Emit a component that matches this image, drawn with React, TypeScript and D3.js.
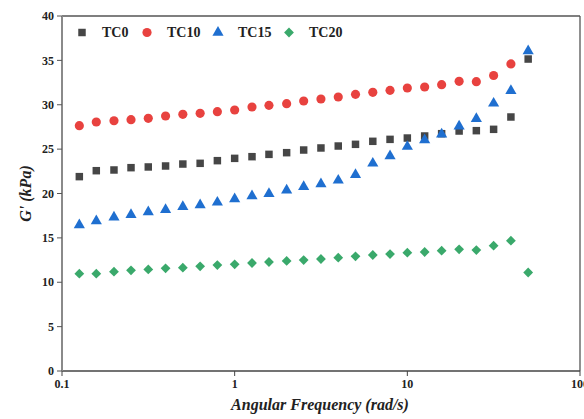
import React from "react";
import * as d3 from "d3";

// Angular frequency sweep points (rad/s)
const frequencies = [
  0.126, 0.158, 0.2, 0.251, 0.316, 0.398, 0.501, 0.631, 0.794, 1.0, 1.26, 1.58, 2.0, 2.51,
  3.16, 3.98, 5.01, 6.31, 7.94, 10.0, 12.6, 15.8, 19.95, 25.1, 31.6, 39.8, 50.1,
];

// Storage modulus G' (kPa) for each sample
const tc0 = [
  21.9, 22.57, 22.65, 22.91, 22.99, 23.1, 23.32, 23.4, 23.7, 23.96, 24.15, 24.41, 24.6, 24.9,
  25.13, 25.35, 25.54, 25.88, 26.1, 26.25, 26.48, 26.74, 27.04, 27.08, 27.23, 28.62, 35.15,
];
const tc10 = [
  27.64, 28.06, 28.2, 28.32, 28.47, 28.73, 28.92, 29.03, 29.22, 29.41, 29.75, 29.93, 30.12,
  30.42, 30.65, 30.87, 31.17, 31.4, 31.62, 31.89, 32.0, 32.26, 32.64, 32.6, 33.3, 34.6,
];
const tc15 = [
  16.45, 16.9, 17.32, 17.61, 17.92, 18.18, 18.51, 18.7, 19.0, 19.38, 19.72, 19.98, 20.36, 20.77,
  21.07, 21.48, 22.12, 23.4, 24.23, 25.28, 26.03, 26.67, 27.57, 28.43, 30.16, 31.58, 36.06,
];
const tc20 = [
  10.97, 10.97, 11.19, 11.34, 11.45, 11.57, 11.64, 11.79, 11.94, 12.02, 12.17, 12.28, 12.4, 12.5,
  12.62, 12.77, 12.92, 13.07, 13.18, 13.33, 13.41, 13.56, 13.71, 13.63, 14.12, 14.68, 11.1,
];

const seriesNames = ["TC0", "TC10", "TC15", "TC20"];
const xTicks = [0.1, 1, 10, 100];
const yTicks = [0, 5, 10, 15, 20, 25, 30, 35, 40];

const W = 584;
const H = 419;
const M = { left: 62, right: 4, top: 16, bottom: 48 };

const colors = ["#464646", "#e8423f", "#1f6fd0", "#3aa96b"];
const symbols = [d3.symbolSquare, d3.symbolCircle, d3.symbolTriangle, d3.symbolDiamond];
const sizes = [56, 66, 54, 48];

const serif = "'Liberation Serif', 'Times New Roman', serif";

export default function App() {
  const x = d3.scaleLog().domain([0.1, 100]).range([M.left, W - M.right]);
  const y = d3.scaleLinear().domain([0, 40]).range([H - M.bottom, M.top]);
  const allSeries = [tc0, tc10, tc15, tc20];

  // diamonds are drawn as rotated squares so their width matches the other markers
  const markerPath = (i: number) =>
    i === 3
      ? (d3.symbol().type(d3.symbolSquare).size(sizes[3])() as string)
      : (d3.symbol().type(symbols[i]).size(sizes[i])() as string);
  const markerTransform = (i: number, cx: number, cy: number) =>
    i === 3 ? `translate(${cx},${cy}) rotate(45)` : `translate(${cx},${cy})`;

  const x0 = x.range()[0];
  const x1 = x.range()[1];
  const yb = y.range()[0];
  const yt = y.range()[1];

  const legendX = [82, 147, 218, 289];
  const legendY = 32.5;

  return (
    <svg
      width={W}
      height={H}
      style={{ position: "absolute", left: 0, top: 0, background: "#fff" }}
      fontFamily={serif}
    >
      <rect x={0} y={0} width={W} height={H} fill="#fff" />

      {/* frame */}
      <line x1={x0} x2={x1} y1={yt} y2={yt} stroke="#555" strokeWidth={1.3} />
      <line x1={x1} x2={x1} y1={yt} y2={yb} stroke="#555" strokeWidth={1.3} />
      <line x1={x0} x2={x1} y1={yb} y2={yb} stroke="#444" strokeWidth={1.3} />
      <line x1={x0} x2={x0} y1={yt} y2={yb} stroke="#8a8a8a" strokeWidth={2} />

      {/* y axis ticks */}
      {yTicks.map((t) => (
        <g key={`y${t}`}>
          <line x1={x0 - 5} x2={x0} y1={y(t)} y2={y(t)} stroke="#555" strokeWidth={1} />
          <text
            x={x0 - 8}
            y={y(t)}
            dy="0.35em"
            textAnchor="end"
            fontSize={12}
            fontWeight="bold"
            fill="#222"
          >
            {t}
          </text>
        </g>
      ))}

      {/* x axis ticks */}
      {xTicks.map((t) => (
        <g key={`x${t}`}>
          <line x1={x(t)} x2={x(t)} y1={yb} y2={yb + 5} stroke="#444" strokeWidth={1} />
          <text
            x={x(t)}
            y={yb + 17}
            textAnchor="middle"
            fontSize={12}
            fontWeight="bold"
            fill="#222"
          >
            {t}
          </text>
        </g>
      ))}

      {/* axis titles */}
      <text
        x={320}
        y={410}
        textAnchor="middle"
        fontSize={16}
        fontWeight="bold"
        fontStyle="italic"
        fill="#222"
      >
        Angular Frequency (rad/s)
      </text>
      <text
        transform={`translate(31,${(yt + yb) / 2}) rotate(-90)`}
        textAnchor="middle"
        fontSize={16}
        fontWeight="bold"
        fontStyle="italic"
        fill="#222"
      >
        G' (kPa)
      </text>

      {/* data markers */}
      {allSeries.map((vals, i) => (
        <g key={seriesNames[i]} fill={colors[i]}>
          {vals.map((v, j) => (
            <path key={j} d={markerPath(i)} transform={markerTransform(i, x(frequencies[j]), y(v))} />
          ))}
        </g>
      ))}

      {/* legend */}
      {seriesNames.map((name, i) => (
        <g key={`lg${name}`}>
          <path d={markerPath(i)} fill={colors[i]} transform={markerTransform(i, legendX[i], legendY)} />
          <text
            x={legendX[i] + 20}
            y={legendY}
            dy="0.35em"
            fontSize={14}
            fontWeight="bold"
            fill="#222"
          >
            {name}
          </text>
        </g>
      ))}
    </svg>
  );
}
